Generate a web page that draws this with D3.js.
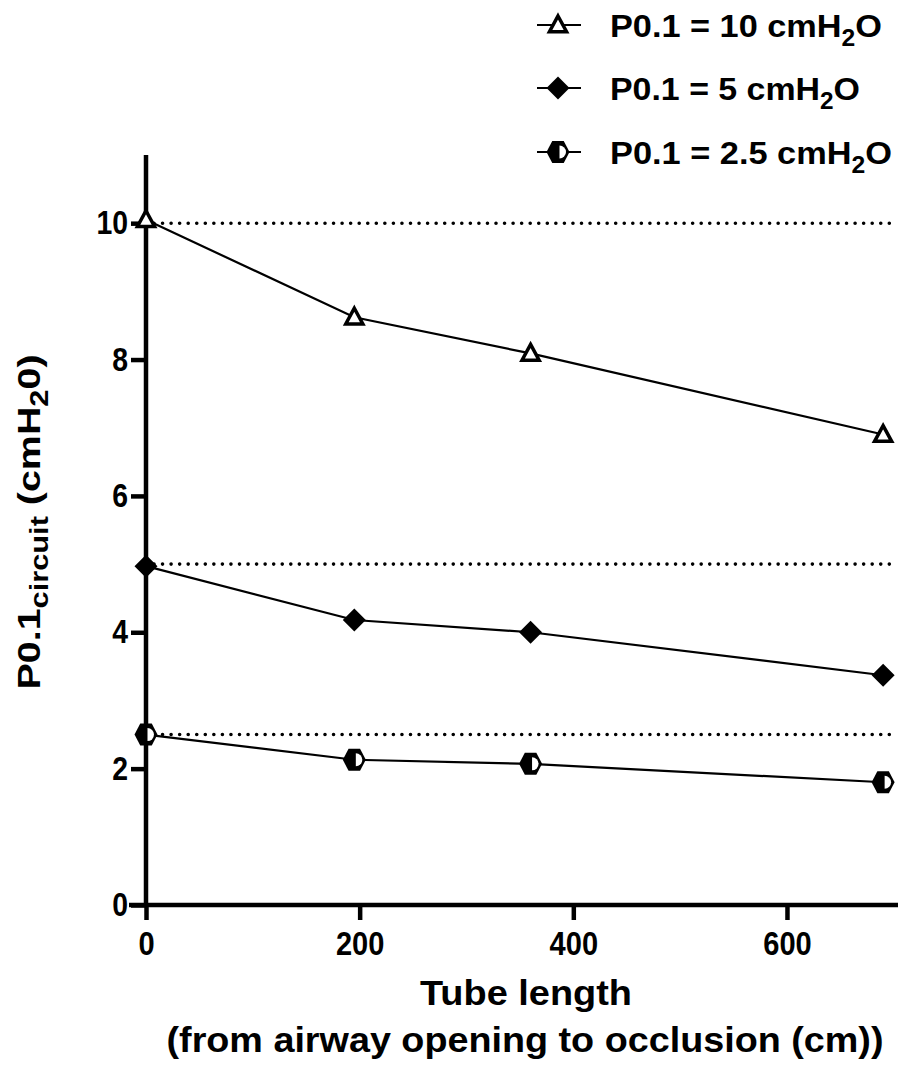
<!DOCTYPE html>
<html><head><meta charset="utf-8">
<script src="https://cdn.jsdelivr.net/npm/d3@7"></script>
<style>body{margin:0;background:#fff}svg{display:block}text{font-family:"Liberation Sans",Arial,sans-serif;font-weight:bold;fill:#000}</style>
</head><body><svg id="c" width="898" height="1066"></svg>
<script>
const tubeLength = [0, 195, 360, 690];
const p10 = [10.05, 8.62, 8.09, 6.9];
const p5 = [4.97, 4.18, 4.0, 3.37];
const p25 = [2.5, 2.13, 2.07, 1.8];
const refLevels = [10, 5, 2.5];
const xTicks = [0, 200, 400, 600];
const yTicks = [0, 2, 4, 6, 8, 10];
const legendLabels = ["P0.1 = 10 cmH", "P0.1 = 5 cmH", "P0.1 = 2.5 cmH"];

const svg = d3.select("#c");
const L = 146, R = 897, T = 155, B = 905;
const x = d3.scaleLinear().domain([0, 703]).range([L, R]);
const y = d3.scaleLinear().domain([0, 11]).range([B, T]);

function condense(sel, k) {
  sel.each(function () {
    const w = this.getComputedTextLength();
    d3.select(this).attr("textLength", w * k).attr("lengthAdjust", "spacingAndGlyphs");
  });
}

// reference dotted lines
svg.selectAll("line.ref").data(refLevels).join("line")
  .attr("x1", x(0) + 8).attr("x2", R).attr("y1", d => y(d)).attr("y2", d => y(d))
  .attr("stroke", "#000").attr("stroke-width", 3.6).attr("stroke-linecap", "round")
  .attr("stroke-dasharray", "0,8.55");

// axes
const yAxis = d3.axisLeft(y).tickValues(yTicks).tickSize(15).tickPadding(3).tickFormat(d3.format("d"));
const gy = svg.append("g").attr("transform", `translate(${L},0)`).call(yAxis);
gy.select(".domain").attr("d", `M0,${B + 2}V${T}`).attr("stroke-width", 4.5);
gy.selectAll(".tick line").attr("stroke-width", 4.5);
gy.selectAll(".tick text").style("font-size", "33px");
condense(gy.selectAll(".tick text"), 0.86);

const xAxis = d3.axisBottom(x).tickValues(xTicks).tickSize(15).tickPadding(12);
const gx = svg.append("g").attr("transform", `translate(0,${B})`).call(xAxis);
gx.select(".domain").attr("d", `M${L - 17},0H${R + 1}`).attr("stroke-width", 4.5);
gx.selectAll(".tick line").attr("stroke-width", 4.5);
gx.selectAll(".tick text").style("font-size", "33px");
condense(gx.selectAll(".tick text"), 0.88);

// markers
function drawMarker(g, type) {
  if (type === "tri") {
    const s = 9;
    g.append("path").attr("d", `M0,${-s}L${s * 0.95},${s * 0.75}L${-s * 0.95},${s * 0.75}Z`)
      .attr("fill", "#fff").attr("stroke", "#000").attr("stroke-width", 3.5).attr("stroke-linejoin", "miter");
  } else if (type === "dia") {
    const s = 11.5;
    g.append("path").attr("d", `M0,${-s}L${s},0L0,${s}L${-s},0Z`).attr("fill", "#000");
  } else {
    const w = 11.5, h = 11;
    g.append("path").attr("d", `M${-w},0L${-w / 2},${-h}L${w / 2},${-h}L${w},0L${w / 2},${h}L${-w / 2},${h}Z`).attr("fill", "#000");
    g.append("path").attr("d", `M1.5,-6.5A6.5,6.5 0 0 1 1.5,6.5Z`).attr("fill", "#fff");
  }
}

const seriesList = [
  {vals: p10, type: "tri"},
  {vals: p5, type: "dia"},
  {vals: p25, type: "hex"}
];
const line = d3.line().x(d => x(d[0])).y(d => y(d[1]));
seriesList.forEach(s => {
  const pts = tubeLength.map((t, i) => [t, s.vals[i]]);
  svg.append("path").attr("d", line(pts)).attr("fill", "none").attr("stroke", "#000").attr("stroke-width", 2.2);
  pts.forEach(p => {
    const g = svg.append("g").attr("transform", `translate(${x(p[0])},${y(p[1])})`);
    drawMarker(g, s.type);
  });
});

// axis titles
const yl = svg.append("text").attr("transform", `translate(40,${522}) rotate(-90)`).attr("text-anchor", "middle").style("font-size", "32px");
yl.append("tspan").text("P0.1");
yl.append("tspan").attr("dy", 8).style("font-size", "25px").text("circuit");
yl.append("tspan").attr("dy", -8).text(" (cmH");
yl.append("tspan").attr("dy", 8).style("font-size", "25px").text("2");
yl.append("tspan").attr("dy", -8).text("0)");
yl.attr("textLength", 335).attr("lengthAdjust", "spacingAndGlyphs");

svg.append("text").attr("x", 526).attr("y", 1005).attr("text-anchor", "middle").style("font-size", "35px")
  .attr("textLength", 212).attr("lengthAdjust", "spacingAndGlyphs").text("Tube length");
svg.append("text").attr("x", 525).attr("y", 1052).attr("text-anchor", "middle").style("font-size", "35px")
  .attr("textLength", 717).attr("lengthAdjust", "spacingAndGlyphs").text("(from airway opening to occlusion (cm))");

// legend
const legY = [25, 88, 152];
const legW = [272, 250, 282];
const types = ["tri", "dia", "hex"];
legendLabels.forEach((lab, i) => {
  const gy0 = legY[i];
  svg.append("line").attr("x1", 537).attr("x2", 581).attr("y1", gy0).attr("y2", gy0).attr("stroke", "#000").attr("stroke-width", 2.2);
  const g = svg.append("g").attr("transform", `translate(558,${gy0})`);
  drawMarker(g, types[i]);
  const t = svg.append("text").attr("x", 610).attr("y", gy0 + 12).style("font-size", "32px");
  t.append("tspan").text(lab);
  t.append("tspan").attr("dy", 9).style("font-size", "23px").text("2");
  t.append("tspan").attr("dy", -9).text("O");
  t.attr("textLength", legW[i]).attr("lengthAdjust", "spacingAndGlyphs");
});
</script></body></html>
